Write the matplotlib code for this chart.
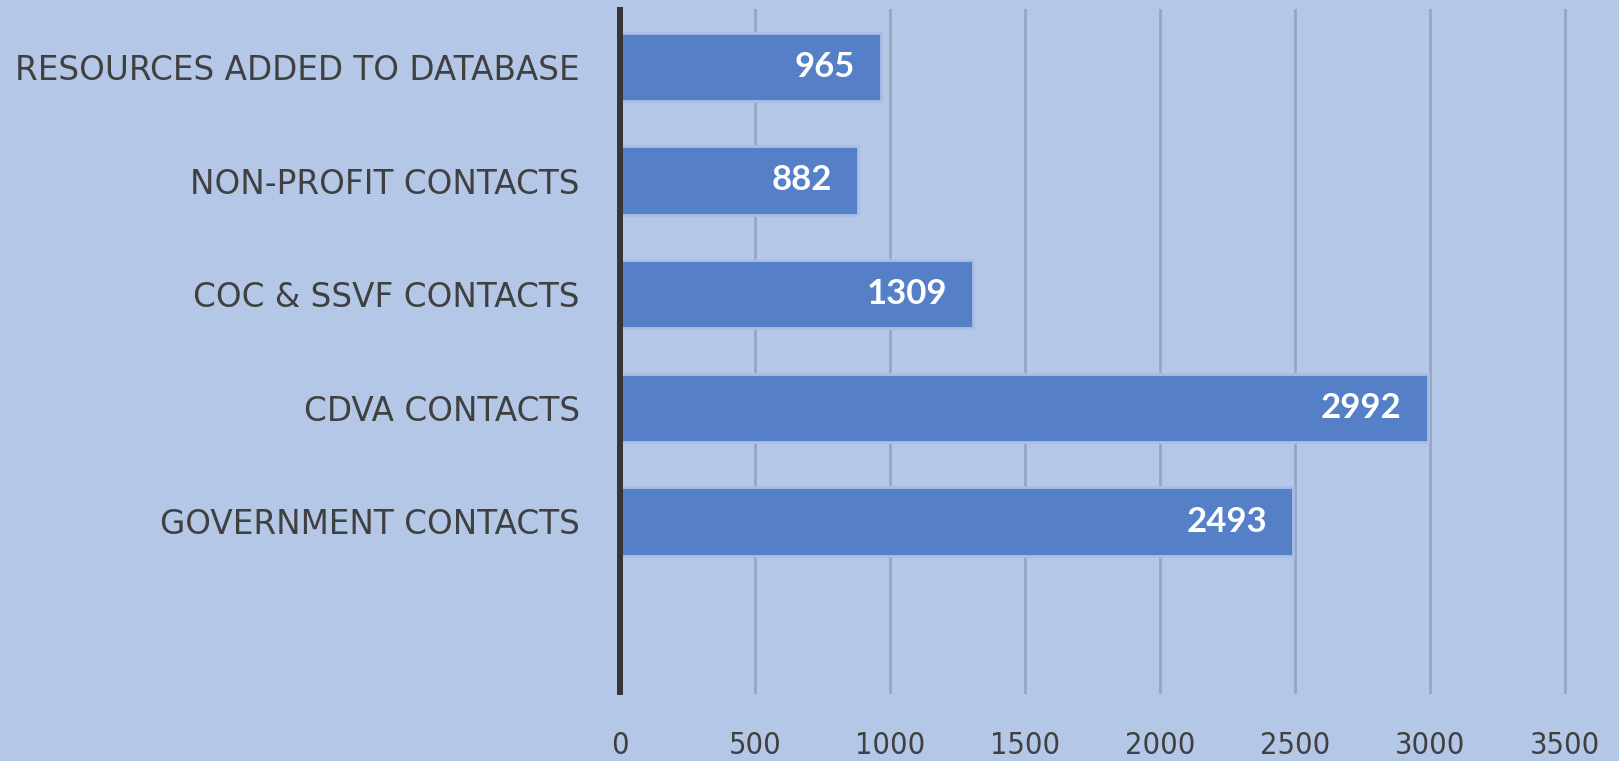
import matplotlib
matplotlib.use("Agg")
import matplotlib.pyplot as plt
from matplotlib import font_manager
from matplotlib.font_manager import FontProperties

categories = ["", "GOVERNMENT CONTACTS", "CDVA CONTACTS", "COC & SSVF CONTACTS",
              "NON-PROFIT CONTACTS", "RESOURCES ADDED TO DATABASE"]
values = [None, 2493, 2992, 1309, 882, 965]
x_ticks = [0, 500, 1000, 1500, 2000, 2500, 3000, 3500]

# look for a condensed / narrow font for the x tick labels
narrow_file = None
for f in font_manager.fontManager.ttflist:
    fn = f.fname.lower()
    if ("condensed" in fn or "narrow" in fn) and "bold" not in fn and "oblique" not in fn and "italic" not in fn:
        narrow_file = f.fname
        if "dejavusanscondensed" in fn.replace("-", ""):
            break

if narrow_file:
    tick_fp = FontProperties(fname=narrow_file, size=22)
else:
    tick_fp = FontProperties(family="DejaVu Sans", size=19)

bg = "#B4C7E7"
bar_color = "#5580C8"
text_color = "#404040"

fig = plt.figure(figsize=(16.19, 7.61), dpi=100, facecolor=bg)
ax = fig.add_axes([620/1619, 69/761, (1565-620)/1619, (692-10)/761])
ax.set_facecolor(bg)

pos = list(range(len(categories)))
bar_pos = [p for p, v in zip(pos, values) if v is not None]
bar_vals = [v for v in values if v is not None]
ax.barh(bar_pos, bar_vals, height=0.6, color=bar_color,
        edgecolor="#A9BEE6", linewidth=2, zorder=3)

for p, v in zip(bar_pos, bar_vals):
    ax.annotate(str(v), xy=(v, p), xytext=(-26, 0), textcoords="offset pixels",
                ha="right", va="center", color="white", fontsize=25,
                fontweight="bold", family=["Lato", "DejaVu Sans"], zorder=4)

ax.set_xlim(0, 3500)
ax.set_ylim(-0.5, len(categories) - 0.5)
ax.set_xticks(x_ticks)
ax.set_xticklabels([str(t) for t in x_ticks], fontproperties=tick_fp, color=text_color)
ax.set_yticks(pos)
ax.set_yticklabels(categories, family=["DejaVu Sans"], fontsize=23.5,
                   color=text_color)
ax.tick_params(axis="x", length=0, pad=28)
ax.tick_params(axis="y", length=0, pad=29)

ax.grid(axis="x", color="#97A6BF", linewidth=2, zorder=1)
for line in ax.get_xgridlines():
    line.set_clip_on(False)
for s in ["top", "right", "bottom"]:
    ax.spines[s].set_visible(False)
ax.spines["left"].set_color("#353535")
ax.spines["left"].set_linewidth(4.3)
ax.spines["left"].set_zorder(5)

fig.savefig("out.png", dpi=100, facecolor=bg)
